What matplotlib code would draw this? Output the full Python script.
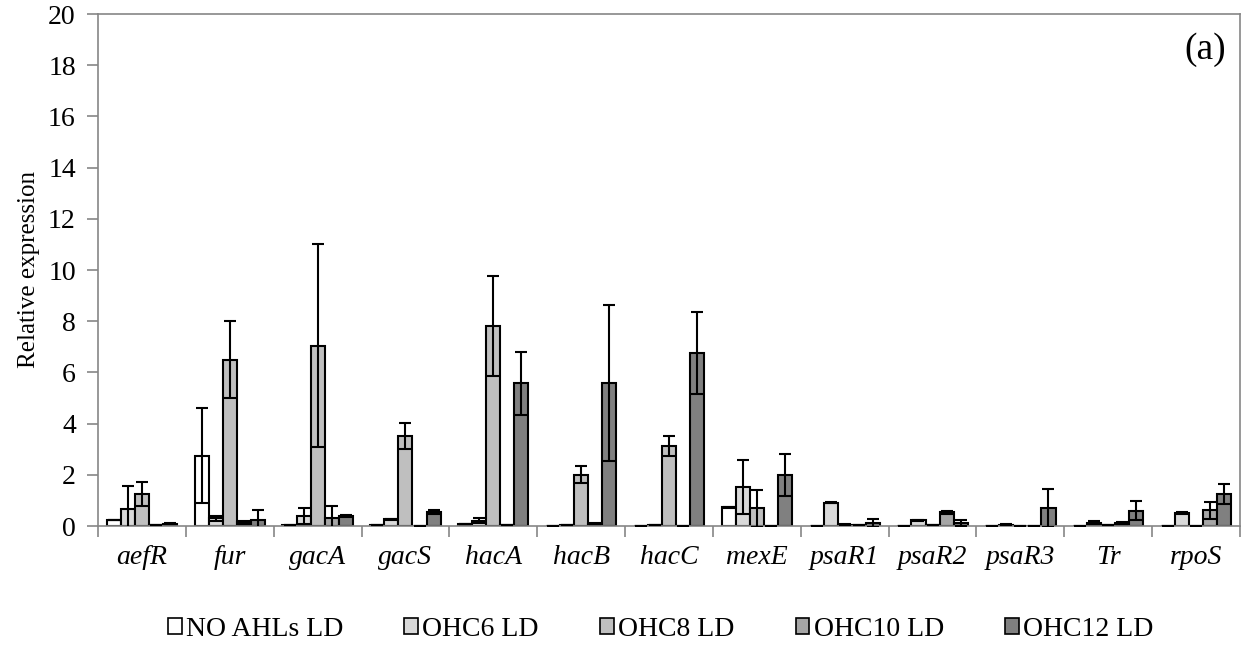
import numpy as np
import matplotlib
matplotlib.use("Agg")
import matplotlib.pyplot as plt
from matplotlib.patches import Patch

genes = ["aefR", "fur", "gacA", "gacS", "hacA", "hacB", "hacC",
         "mexE", "psaR1", "psaR2", "psaR3", "Tr", "rpoS"]
series = ["NO AHLs LD", "OHC6 LD", "OHC8 LD", "OHC10 LD", "OHC12 LD"]

no_ahl = [0.25, 2.75, 0.02, 0.02, 0.08, 0.01, 0.0, 0.73, 0.0, 0.0, 0.01, 0.01, 0.0]
no_ahl_err = [0.0, 1.85, 0.0, 0.0, 0.0, 0.0, 0.0, 0.03, 0.0, 0.0, 0.0, 0.0, 0.0]
ohc6 = [0.66, 0.3, 0.39, 0.26, 0.21, 0.02, 0.02, 1.51, 0.91, 0.22, 0.05, 0.13, 0.49]
ohc6_err = [0.9, 0.1, 0.3, 0.03, 0.1, 0.0, 0.0, 1.06, 0.03, 0.03, 0.02, 0.07, 0.04]
ohc8 = [1.24, 6.5, 7.05, 3.51, 7.8, 2.01, 3.12, 0.69, 0.05, 0.02, 0.01, 0.02, 0.0]
ohc8_err = [0.47, 1.5, 3.95, 0.52, 1.95, 0.33, 0.4, 0.71, 0.01, 0.0, 0.0, 0.0, 0.0]
ohc10 = [0.02, 0.14, 0.3, 0.0, 0.03, 0.09, 0.0, 0.0, 0.02, 0.53, 0.01, 0.12, 0.62]
ohc10_err = [0.0, 0.05, 0.48, 0.0, 0.0, 0.03, 0.0, 0.0, 0.0, 0.05, 0.0, 0.03, 0.33]
ohc12 = [0.08, 0.24, 0.39, 0.53, 5.57, 5.6, 6.77, 1.98, 0.13, 0.12, 0.7, 0.6, 1.25]
ohc12_err = [0.02, 0.38, 0.03, 0.08, 1.23, 3.05, 1.6, 0.82, 0.15, 0.12, 0.75, 0.38, 0.4]

values = [no_ahl, ohc6, ohc8, ohc10, ohc12]
errors = [no_ahl_err, ohc6_err, ohc8_err, ohc10_err, ohc12_err]
colors = ["#ffffff", "#d9d9d9", "#bfbfbf", "#a6a6a6", "#808080"]

plt.rcParams["font.family"] = ["Liberation Serif", "DejaVu Serif"]
axis_gray = "#868686"

fig = plt.figure(figsize=(12.44, 6.47), dpi=100)
ax = fig.add_axes([98 / 1244, 1 - 526 / 647, 1142 / 1244, 512 / 647])

x = np.arange(len(genes))
width = 0.16
for i, (vals, errs, col) in enumerate(zip(values, errors, colors)):
    ax.bar(x + (i - 2) * width, vals, width, color=col, edgecolor="black",
           linewidth=1.5, yerr=errs, zorder=2,
           error_kw=dict(ecolor="black", elinewidth=1.5, capsize=4.3,
                         capthick=1.5, zorder=3))

ax.set_xlim(-0.5, len(genes) - 0.5)
ax.set_ylim(0, 20)
ax.set_yticks(np.arange(0, 21, 2))
ax.set_xticks(x)
ax.set_xticklabels(genes, fontstyle="italic", fontsize=20)
ax.set_xticks(np.arange(-0.5, len(genes), 1), minor=True)
ax.tick_params(axis="x", which="major", length=0, pad=14)
ax.tick_params(axis="x", which="minor", length=8, width=1.2, color=axis_gray)
ax.tick_params(axis="y", length=8, width=1.2, color=axis_gray,
               labelsize=20, pad=8)
for sp in ax.spines.values():
    sp.set_color(axis_gray)
    sp.set_linewidth(1.2)

ax.set_ylabel("Relative expression", fontsize=18, labelpad=6)
ax.text(0.988, 0.93, "(a)", transform=ax.transAxes, fontsize=27,
        ha="right", va="center")

handles = [Patch(facecolor=c, edgecolor="black", linewidth=1.2) for c in colors]
fig.legend(handles, series, loc="center", bbox_to_anchor=(0.531, 0.027),
           ncol=5, frameon=False, fontsize=20, handlelength=0.5,
           handleheight=0.5, handletextpad=0.15, columnspacing=2.2)

fig.savefig("out.png", dpi=100)
